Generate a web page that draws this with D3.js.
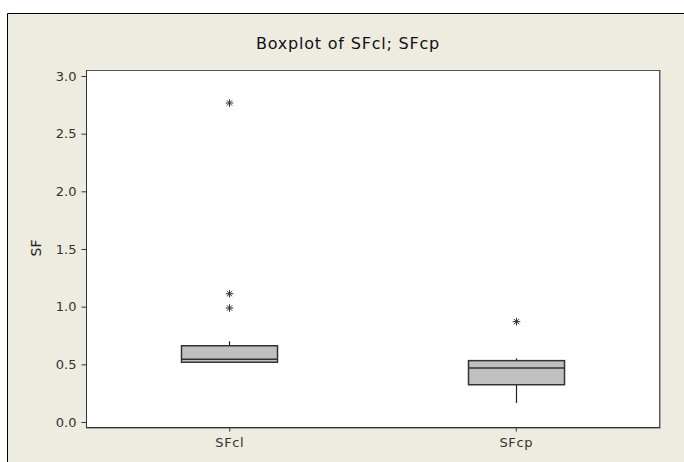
<!DOCTYPE html>
<html>
<head>
<meta charset="utf-8">
<script src="https://cdn.jsdelivr.net/npm/d3@7"></script>
<style>
  html, body { margin: 0; padding: 0; background: #ffffff; }
  svg { display: block; }
  text { font-family: "DejaVu Sans", Verdana, sans-serif; }
</style>
</head>
<body>
<svg id="chart" width="684" height="462"></svg>
<script>
// Boxplot summary per variable
const categories   = ["SFcl", "SFcp"];
const q1Values     = [0.518, 0.323];
const medianValues = [0.544, 0.468];
const q3Values     = [0.661, 0.532];
const whiskerLow   = [0.515, 0.165];
const whiskerHigh  = [0.700, 0.552];
const outliersSFcl = [2.766, 1.112, 0.988];
const outliersSFcp = [0.870];
const yTickValues  = [0.0, 0.5, 1.0, 1.5, 2.0, 2.5, 3.0];
const titleText    = "Boxplot of SFcl; SFcp";
const yLabelText   = "SF";

const outliers = [outliersSFcl, outliersSFcp];

const W = 684, H = 462;
const plot = { left: 86, right: 659, top: 70, bottom: 427 };

const svg = d3.select("#chart");

// Window-style frame and cream background
svg.append("rect")
  .attr("x", 8).attr("y", 14).attr("width", W - 8).attr("height", H - 14)
  .attr("fill", "#eeebe1");
svg.append("path")
  .attr("d", `M7.5,${H} V13.5 H${W}`)
  .attr("fill", "none").attr("stroke", "#000").attr("stroke-width", 1);

// Scales
const y = d3.scaleLinear()
  .domain([-0.0434, 3.052])
  .range([plot.bottom, plot.top]);
const x = d3.scalePoint()
  .domain(categories)
  .range([plot.left, plot.right])
  .padding(0.5);

// Plot area
svg.append("rect")
  .attr("x", plot.left).attr("y", plot.top)
  .attr("width", plot.right - plot.left).attr("height", plot.bottom - plot.top)
  .attr("fill", "#ffffff");
// soft shadow on the right / bottom edges
svg.append("path")
  .attr("d", `M${plot.right + 1.5},${plot.top} V${plot.bottom + 1.5} H${plot.left}`)
  .attr("fill", "none").attr("stroke", "#a8a8a8").attr("stroke-width", 1);
svg.append("rect")
  .attr("x", plot.left + 0.5).attr("y", plot.top + 0.5)
  .attr("width", plot.right - plot.left).attr("height", plot.bottom - plot.top)
  .attr("fill", "none").attr("stroke", "#555").attr("stroke-width", 1);
svg.append("path")
  .attr("d", `M${plot.left + 0.5},${plot.top} V${plot.bottom + 0.5} H${plot.right + 0.5}`)
  .attr("fill", "none").attr("stroke", "#333").attr("stroke-width", 1);

// Y axis
const yAxis = d3.axisLeft(y)
  .tickValues(yTickValues)
  .tickFormat(d3.format(".1f"))
  .tickSize(5)
  .tickPadding(5)
  .tickSizeOuter(0);
const gy = svg.append("g")
  .attr("transform", `translate(${plot.left + 0.5},0)`)
  .call(yAxis);
gy.select(".domain").remove();
gy.selectAll(".tick line").attr("stroke", "#333");
gy.selectAll(".tick text")
  .attr("fill", "#333")
  .style("font-size", "13px")
  .style("font-family", "'DejaVu Sans', Verdana, sans-serif");

// X axis
const xAxis = d3.axisBottom(x).tickSize(4).tickPadding(6).tickSizeOuter(0);
const gx = svg.append("g")
  .attr("transform", `translate(0,${plot.bottom + 0.5})`)
  .call(xAxis);
gx.select(".domain").remove();
gx.selectAll(".tick line").attr("stroke", "#333");
gx.selectAll(".tick text")
  .attr("fill", "#333")
  .style("font-size", "13px")
  .style("letter-spacing", "0.6px")
  .style("font-family", "'DejaVu Sans', Verdana, sans-serif");

// Title
svg.append("text")
  .attr("x", 348).attr("y", 49)
  .attr("text-anchor", "middle")
  .attr("fill", "#111")
  .style("font-size", "16px")
  .style("letter-spacing", "0.8px")
  .text(titleText);

// Y label
svg.append("text")
  .attr("transform", "translate(41,248) rotate(-90)")
  .attr("text-anchor", "middle")
  .attr("fill", "#222")
  .style("font-size", "14px")
  .text(yLabelText);

// Boxes
const boxWidth = 96;
const boxes = svg.append("g");
categories.forEach((c, i) => {
  const cx = Math.round(x(c)) + 0.5;
  const g = boxes.append("g");
  // whiskers
  g.append("line")
    .attr("x1", cx).attr("x2", cx)
    .attr("y1", y(q3Values[i])).attr("y2", y(whiskerHigh[i]))
    .attr("stroke", "#222").attr("stroke-width", 1.2);
  g.append("line")
    .attr("x1", cx).attr("x2", cx)
    .attr("y1", y(q1Values[i])).attr("y2", y(whiskerLow[i]))
    .attr("stroke", "#222").attr("stroke-width", 1.2);
  // box
  g.append("rect")
    .attr("x", cx - boxWidth / 2).attr("y", y(q3Values[i]))
    .attr("width", boxWidth).attr("height", y(q1Values[i]) - y(q3Values[i]))
    .attr("fill", "#c0c0c0").attr("stroke", "#333").attr("stroke-width", 1.5);
  // median
  g.append("line")
    .attr("x1", cx - boxWidth / 2).attr("x2", cx + boxWidth / 2)
    .attr("y1", y(medianValues[i])).attr("y2", y(medianValues[i]))
    .attr("stroke", "#333").attr("stroke-width", 1.5);
  // outliers as asterisks
  const r = 3.8;
  g.selectAll("path.out")
    .data(outliers[i])
    .join("path")
    .attr("class", "out")
    .attr("transform", d => `translate(${cx},${y(d)})`)
    .attr("d", `M0,${-r}V${r}M${-r},0H${r}M${-r*0.7},${-r*0.7}L${r*0.7},${r*0.7}M${-r*0.7},${r*0.7}L${r*0.7},${-r*0.7}`)
    .attr("fill", "none").attr("stroke", "#333").attr("stroke-width", 1);
});
</script>
</body>
</html>
